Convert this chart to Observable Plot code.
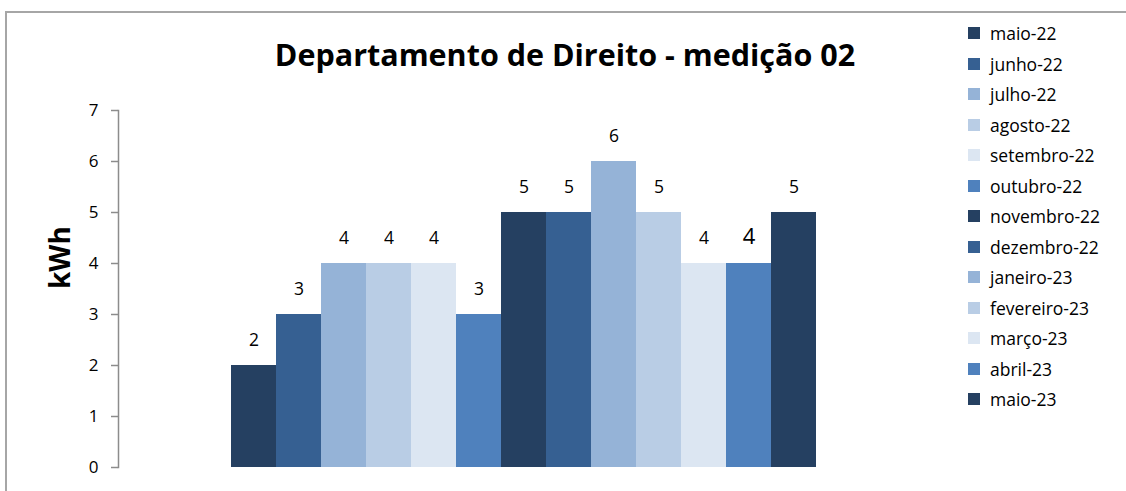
<!DOCTYPE html>
<html>
<head>
<meta charset="utf-8">
<script src="https://cdn.jsdelivr.net/npm/d3@7"></script>
<script src="https://cdn.jsdelivr.net/npm/@observablehq/plot@0.6"></script>
<style>
  html, body { margin: 0; padding: 0; background: #fff; }
  #wrap { position: relative; width: 1126px; height: 491px; overflow: hidden; font-family: "Open Sans", sans-serif; }
  #frame { position: absolute; left: 5px; top: 11px; width: 1200px; height: 600px; border-left: 2px solid #a6a6a6; border-top: 2px solid #a6a6a6; box-sizing: border-box; }
  #chart { position: absolute; left: 0; top: 0; }
  #title { position: absolute; left: 0; width: 1130px; top: 33px; text-align: center; font-weight: bold; font-size: 30.5px; line-height: 42px; color: #000; white-space: nowrap; }
  #legend { position: absolute; left: 968px; top: 18px; }
  .item { height: 30.5px; display: flex; align-items: center; font-size: 17.5px; color: #000; white-space: nowrap; }
  .sw { width: 12px; height: 12px; margin-right: 10px; flex: none; }
</style>
</head>
<body>
<div id="wrap">
  <div id="frame"></div>
  <div id="chart"></div>
  <div id="title"></div>
  <div id="legend"></div>
</div>
<script>
const title = "Departamento de Direito - medição 02";
const yLabel = "kWh";
const months = ["maio-22","junho-22","julho-22","agosto-22","setembro-22","outubro-22","novembro-22","dezembro-22","janeiro-23","fevereiro-23","março-23","abril-23","maio-23"];
const values = [2, 3, 4, 4, 4, 3, 5, 5, 6, 5, 4, 4, 5];
const colors = ["#254061","#366092","#95b3d7","#b9cde5","#dce6f2","#4f81bd","#254061","#366092","#95b3d7","#b9cde5","#dce6f2","#4f81bd","#254061"];
const yTicks = [0, 1, 2, 3, 4, 5, 6, 7];
const bigLabelMonth = "abril-23";

const data = months.map((m, i) => ({month: m, value: values[i]}));

const chart = Plot.plot({
  width: 1126,
  height: 491,
  marginLeft: 118,
  marginRight: 0,
  marginTop: 110,
  marginBottom: 24,
  style: {fontFamily: "'Open Sans', sans-serif", fontSize: "17px", background: "transparent", overflow: "visible"},
  x: {type: "band", domain: months, range: [230, 817], padding: 0, axis: null},
  y: {domain: [0, 7], ticks: yTicks, axis: null},
  color: {type: "ordinal", domain: months, range: colors},
  marks: [
    Plot.frame({anchor: "left", stroke: "#8c8c8c", strokeWidth: 1.5}),
    Plot.axisY({ticks: yTicks, tickSize: 7, tickFormat: () => "", label: null, stroke: "#8c8c8c", strokeWidth: 1.5}),
    Plot.text(yTicks, {y: d => d, text: d => String(d), frameAnchor: "left", dx: -20, textAnchor: "end", fontSize: 17, fill: "#000"}),
    Plot.barY(data, {x: "month", y: "value", fill: "month", inset: 0}),
    Plot.text(data.filter(d => d.month !== bigLabelMonth), {x: "month", y: "value", text: d => String(d.value), dy: -25, fontSize: 17.5, fill: "#000"}),
    Plot.text(data.filter(d => d.month === bigLabelMonth), {x: "month", y: "value", text: d => String(d.value), dy: -27, fontSize: 22, fill: "#000"}),
    Plot.text([yLabel], {frameAnchor: "left", dx: -57, text: d => d, rotate: -90, fontSize: 28, fontWeight: "bold", fill: "#000"})
  ]
});
document.getElementById("chart").appendChild(chart);
document.getElementById("title").textContent = title;

const legend = document.getElementById("legend");
months.forEach((m, i) => {
  const row = document.createElement("div");
  row.className = "item";
  const sw = document.createElement("span");
  sw.className = "sw";
  sw.style.background = colors[i];
  const t = document.createElement("span");
  t.textContent = m;
  row.appendChild(sw);
  row.appendChild(t);
  legend.appendChild(row);
});
</script>
</body>
</html>
